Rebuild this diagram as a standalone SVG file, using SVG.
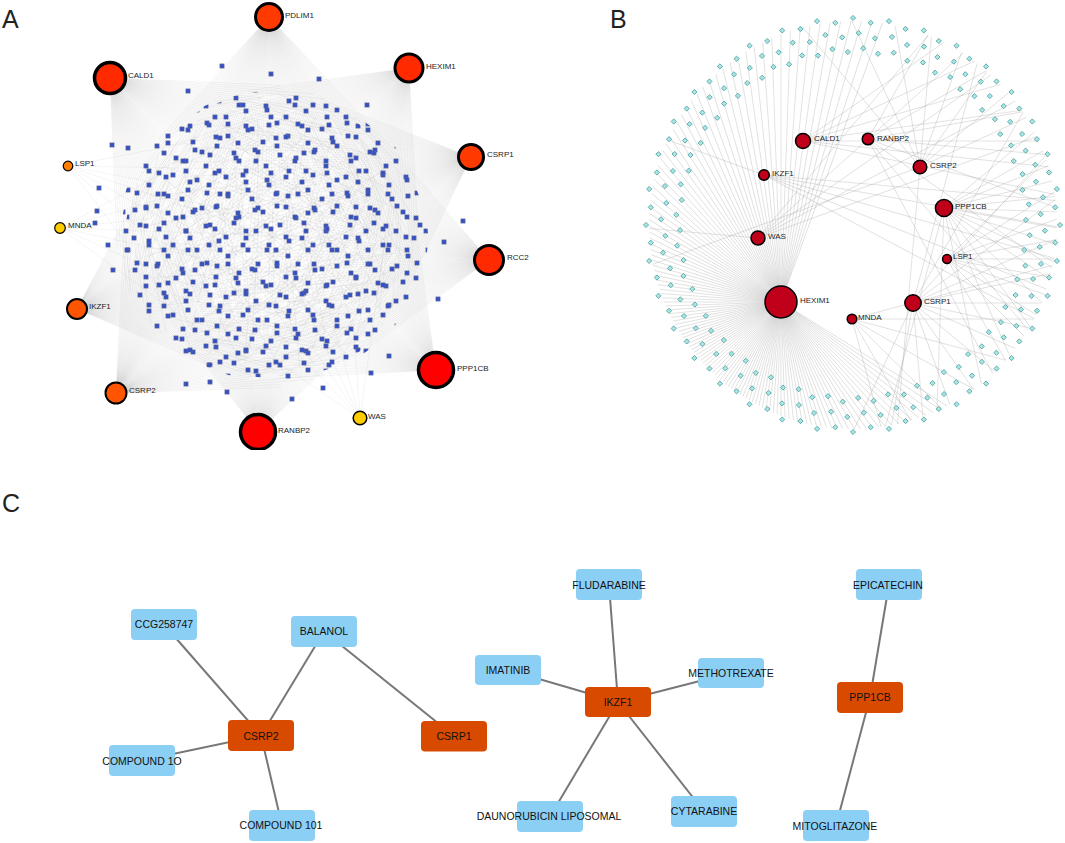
<svg xmlns="http://www.w3.org/2000/svg" width="1065" height="843" viewBox="0 0 1065 843">
<style>
.lbl{font-family:"Liberation Sans",Arial,sans-serif;font-size:8px;fill:#222}
.big{font-family:"Liberation Sans",Arial,sans-serif;font-size:25px;fill:#222}
.ct{font-family:"Liberation Sans",Arial,sans-serif;font-size:10.5px;fill:#111;text-anchor:middle}
.drug{fill:#8ccff5}
.tgt{fill:#d84a00}
.ce line{stroke:#777;stroke-width:2}
.hA{stroke:#000}
.hB{fill:#c0001b;stroke:#000;stroke-width:1.5}
</style>
<defs>
<clipPath id="clipA"><rect x="0" y="0" width="540" height="450"/></clipPath>
<clipPath id="clipB"><circle cx="853" cy="225" r="204"/></clipPath>
<pattern id="p1" width="60" height="60" patternUnits="userSpaceOnUse">
<g fill="#3050cc" stroke="#55609a" stroke-width="0.8">
<rect x="6" y="8" width="4" height="4"/><rect x="27" y="3" width="4" height="4"/><rect x="46" y="14" width="4" height="4"/>
<rect x="13" y="28" width="4" height="4"/><rect x="35" y="24" width="4" height="4"/><rect x="54" y="36" width="4" height="4"/>
<rect x="4" y="49" width="4" height="4"/><rect x="24" y="44" width="4" height="4"/><rect x="44" y="55" width="4" height="4"/>
</g></pattern>
<pattern id="p2" width="70" height="70" patternUnits="userSpaceOnUse" x="13" y="7">
<g fill="#3050cc" stroke="#55609a" stroke-width="0.8">
<rect x="9" y="4" width="4" height="4"/><rect x="31" y="12" width="4" height="4"/><rect x="55" y="6" width="4" height="4"/>
<rect x="18" y="26" width="4" height="4"/><rect x="42" y="31" width="4" height="4"/><rect x="64" y="22" width="4" height="4"/>
<rect x="3" y="45" width="4" height="4"/><rect x="27" y="50" width="4" height="4"/><rect x="52" y="44" width="4" height="4"/>
<rect x="13" y="64" width="4" height="4"/><rect x="38" y="63" width="4" height="4"/><rect x="61" y="58" width="4" height="4"/>
</g></pattern>
<pattern id="p3" width="56" height="56" patternUnits="userSpaceOnUse" x="29" y="21">
<g fill="#3050cc" stroke="#55609a" stroke-width="0.8">
<rect x="3" y="17" width="4" height="4"/><rect x="21" y="3" width="4" height="4"/><rect x="40" y="26" width="4" height="4"/>
<rect x="16" y="38" width="4" height="4"/><rect x="47" y="47" width="4" height="4"/>
</g></pattern>
<rect id="sq" width="4" height="4" fill="#3050cc" stroke="#55609a" stroke-width="0.8"/>
<g id="fa">
<line x2="150" transform="rotate(-42)"/><line x2="180" transform="rotate(-40)"/><line x2="120" transform="rotate(-38)"/>
<line x2="200" transform="rotate(-36)"/><line x2="140" transform="rotate(-34)"/><line x2="230" transform="rotate(-32)"/>
<line x2="110" transform="rotate(-30)"/><line x2="250" transform="rotate(-28)"/><line x2="170" transform="rotate(-26)"/>
<line x2="210" transform="rotate(-24)"/><line x2="130" transform="rotate(-22)"/><line x2="280" transform="rotate(-20)"/>
<line x2="190" transform="rotate(-18)"/><line x2="150" transform="rotate(-16)"/><line x2="300" transform="rotate(-14)"/>
<line x2="220" transform="rotate(-12)"/><line x2="120" transform="rotate(-10)"/><line x2="260" transform="rotate(-8)"/>
<line x2="180" transform="rotate(-6)"/><line x2="320" transform="rotate(-4)"/><line x2="100" transform="rotate(-2)"/>
<line x2="240"/><line x2="160" transform="rotate(2)"/><line x2="290" transform="rotate(4)"/>
<line x2="200" transform="rotate(6)"/><line x2="130" transform="rotate(8)"/><line x2="310" transform="rotate(10)"/>
<line x2="175" transform="rotate(12)"/><line x2="245" transform="rotate(14)"/><line x2="110" transform="rotate(16)"/>
<line x2="270" transform="rotate(18)"/><line x2="195" transform="rotate(20)"/><line x2="140" transform="rotate(22)"/>
<line x2="260" transform="rotate(24)"/><line x2="185" transform="rotate(26)"/><line x2="230" transform="rotate(28)"/>
<line x2="125" transform="rotate(30)"/><line x2="210" transform="rotate(32)"/><line x2="160" transform="rotate(34)"/>
<line x2="220" transform="rotate(36)"/><line x2="135" transform="rotate(38)"/><line x2="190" transform="rotate(40)"/>
<line x2="150" transform="rotate(42)"/>
</g>
<g id="fs">
<line x2="120" transform="rotate(-30)"/><line x2="200" transform="rotate(-18)"/><line x2="90" transform="rotate(-8)"/>
<line x2="260"/><line x2="150" transform="rotate(10)"/><line x2="100" transform="rotate(22)"/><line x2="180" transform="rotate(34)"/>
</g>
<g id="hf">
<line x2="330"/><line x2="330" transform="rotate(2)"/><line x2="330" transform="rotate(4)"/><line x2="330" transform="rotate(6)"/>
<line x2="330" transform="rotate(8)"/><line x2="330" transform="rotate(10)"/><line x2="330" transform="rotate(12)"/>
<line x2="330" transform="rotate(14)"/><line x2="330" transform="rotate(16)"/><line x2="330" transform="rotate(18)"/>
</g>
<line id="bl" x2="430"/>
<path id="dm" d="M0 -2.6L2.6 0L0 2.6L-2.6 0Z" fill="#a8e6e6" stroke="#4a9a9a" stroke-width="0.8"/>
<g id="q">
<use href="#dm" transform="translate(207)"/>
<use href="#dm" transform="rotate(5)translate(203)rotate(-5)"/>
<use href="#dm" transform="rotate(10)translate(207)rotate(-10)"/>
<use href="#dm" transform="rotate(15)translate(203)rotate(-15)"/>
<use href="#dm" transform="rotate(20)translate(207)rotate(-20)"/>
<use href="#dm" transform="rotate(25)translate(203)rotate(-25)"/>
<use href="#dm" transform="rotate(30)translate(207)rotate(-30)"/>
<use href="#dm" transform="rotate(35)translate(203)rotate(-35)"/>
<use href="#dm" transform="rotate(40)translate(207)rotate(-40)"/>
<use href="#dm" transform="rotate(45)translate(203)rotate(-45)"/>
<use href="#dm" transform="rotate(50)translate(207)rotate(-50)"/>
<use href="#dm" transform="rotate(55)translate(203)rotate(-55)"/>
<use href="#dm" transform="rotate(60)translate(207)rotate(-60)"/>
<use href="#dm" transform="rotate(65)translate(203)rotate(-65)"/>
<use href="#dm" transform="rotate(70)translate(207)rotate(-70)"/>
<use href="#dm" transform="rotate(75)translate(203)rotate(-75)"/>
<use href="#dm" transform="rotate(80)translate(207)rotate(-80)"/>
<use href="#dm" transform="rotate(85)translate(203)rotate(-85)"/>
<use href="#dm" transform="rotate(1.7)translate(192)rotate(-1.7)"/>
<use href="#dm" transform="rotate(6.7)translate(188)rotate(-6.7)"/>
<use href="#dm" transform="rotate(11.7)translate(192)rotate(-11.7)"/>
<use href="#dm" transform="rotate(16.7)translate(188)rotate(-16.7)"/>
<use href="#dm" transform="rotate(21.7)translate(192)rotate(-21.7)"/>
<use href="#dm" transform="rotate(26.7)translate(188)rotate(-26.7)"/>
<use href="#dm" transform="rotate(31.7)translate(192)rotate(-31.7)"/>
<use href="#dm" transform="rotate(36.7)translate(188)rotate(-36.7)"/>
<use href="#dm" transform="rotate(41.7)translate(192)rotate(-41.7)"/>
<use href="#dm" transform="rotate(46.7)translate(188)rotate(-46.7)"/>
<use href="#dm" transform="rotate(51.7)translate(192)rotate(-51.7)"/>
<use href="#dm" transform="rotate(56.7)translate(188)rotate(-56.7)"/>
<use href="#dm" transform="rotate(61.7)translate(192)rotate(-61.7)"/>
<use href="#dm" transform="rotate(66.7)translate(188)rotate(-66.7)"/>
<use href="#dm" transform="rotate(71.7)translate(192)rotate(-71.7)"/>
<use href="#dm" transform="rotate(76.7)translate(188)rotate(-76.7)"/>
<use href="#dm" transform="rotate(81.7)translate(192)rotate(-81.7)"/>
<use href="#dm" transform="rotate(86.7)translate(188)rotate(-86.7)"/>
<use href="#dm" transform="rotate(3.3)translate(177)rotate(-3.3)"/>
<use href="#dm" transform="rotate(8.3)translate(173)rotate(-8.3)"/>
<use href="#dm" transform="rotate(13.3)translate(177)rotate(-13.3)"/>
<use href="#dm" transform="rotate(18.3)translate(173)rotate(-18.3)"/>
<use href="#dm" transform="rotate(23.3)translate(177)rotate(-23.3)"/>
<use href="#dm" transform="rotate(28.3)translate(173)rotate(-28.3)"/>
<use href="#dm" transform="rotate(33.3)translate(177)rotate(-33.3)"/>
<use href="#dm" transform="rotate(38.3)translate(173)rotate(-38.3)"/>
<use href="#dm" transform="rotate(43.3)translate(177)rotate(-43.3)"/>
<use href="#dm" transform="rotate(48.3)translate(173)rotate(-48.3)"/>
<use href="#dm" transform="rotate(53.3)translate(177)rotate(-53.3)"/>
<use href="#dm" transform="rotate(58.3)translate(173)rotate(-58.3)"/>
<use href="#dm" transform="rotate(63.3)translate(177)rotate(-63.3)"/>
<use href="#dm" transform="rotate(68.3)translate(173)rotate(-68.3)"/>
<use href="#dm" transform="rotate(73.3)translate(177)rotate(-73.3)"/>
<use href="#dm" transform="rotate(78.3)translate(173)rotate(-78.3)"/>
<use href="#dm" transform="rotate(83.3)translate(177)rotate(-83.3)"/>
<use href="#dm" transform="rotate(88.3)translate(173)rotate(-88.3)"/>
</g>
</defs>
<rect width="1065" height="843" fill="#fff"/>

<!-- Panel letters -->
<text class="big" x="2" y="28">A</text>
<text class="big" x="610" y="28">B</text>
<text class="big" x="2" y="512">C</text>

<!-- Panel A connectors -->
<g id="edgesA" clip-path="url(#clipA)" stroke="#a0a0a0" stroke-opacity="0.2" stroke-width="0.5">
<use href="#fa" transform="translate(269 17) rotate(89) scale(1.1)"/>
<use href="#fa" transform="translate(269 17) rotate(90) scale(1.1 -1.1)"/>
<use href="#fa" transform="translate(110 78) rotate(44.5) scale(1.135)"/>
<use href="#fa" transform="translate(110 78) rotate(45.5) scale(1.135 -1.135)"/>
<use href="#fa" transform="translate(409 68) rotate(129) scale(1.09)"/>
<use href="#fa" transform="translate(409 68) rotate(130) scale(1.09 -1.09)"/>
<use href="#fa" transform="translate(471 157) rotate(158) scale(1.07)"/>
<use href="#fa" transform="translate(471 157) rotate(159) scale(1.07 -1.07)"/>
<use href="#fa" transform="translate(489 260) rotate(186) scale(1.09)"/>
<use href="#fa" transform="translate(489 260) rotate(187) scale(1.09 -1.09)"/>
<use href="#fa" transform="translate(436 370) rotate(219) scale(1.055)"/>
<use href="#fa" transform="translate(436 370) rotate(220) scale(1.055 -1.055)"/>
<use href="#fa" transform="translate(258 432) rotate(274) scale(0.98)"/>
<use href="#fa" transform="translate(258 432) rotate(275) scale(0.98 -0.98)"/>
<use href="#fa" transform="translate(116 393) rotate(315) scale(1.1)"/>
<use href="#fa" transform="translate(116 393) rotate(316) scale(1.1 -1.1)"/>
<use href="#fa" transform="translate(77 309) rotate(340) scale(1.04)"/>
<use href="#fa" transform="translate(77 309) rotate(341) scale(1.04 -1.04)"/>
<use href="#fs" transform="translate(360 418) rotate(244)"/>
<use href="#fs" transform="translate(60 228) rotate(2)"/>
<use href="#fs" transform="translate(68 166) rotate(19)"/>
</g>

<!-- Panel A small nodes -->
<g id="nodesA-small">
<ellipse cx="273" cy="236" rx="155" ry="145" fill="url(#p1)"/>
<ellipse cx="273" cy="236" rx="152" ry="143" fill="url(#p2)"/>
<ellipse cx="273" cy="238" rx="148" ry="140" fill="url(#p3)"/>
<use href="#sq" x="220" y="64"/><use href="#sq" x="269" y="72"/><use href="#sq" x="317" y="77"/>
<use href="#sq" x="110" y="143"/><use href="#sq" x="126" y="146"/><use href="#sq" x="97" y="186"/>
<use href="#sq" x="95" y="209"/><use href="#sq" x="93" y="221"/><use href="#sq" x="106" y="243"/>
<use href="#sq" x="461" y="219"/><use href="#sq" x="442" y="240"/><use href="#sq" x="436" y="297"/>
<use href="#sq" x="369" y="371"/><use href="#sq" x="290" y="397"/><use href="#sq" x="321" y="386"/>
<use href="#sq" x="225" y="390"/><use href="#sq" x="184" y="382"/><use href="#sq" x="208" y="380"/>
<use href="#sq" x="387" y="354"/><use href="#sq" x="186" y="89"/><use href="#sq" x="365" y="103"/>
<use href="#sq" x="111" y="268"/>
</g>

<!-- Panel A hubs -->
<g clip-path="url(#clipA)">
<g id="A-PDLIM1"><circle class="hA" cx="269" cy="17" r="13.5" fill="#ff3a00" stroke-width="3"/><text class="lbl" x="285" y="18">PDLIM1</text></g>
<g id="A-CALD1"><circle class="hA" cx="110" cy="78" r="15.5" fill="#ff2a00" stroke-width="3.5"/><text class="lbl" x="128" y="78">CALD1</text></g>
<g id="A-HEXIM1"><circle class="hA" cx="409" cy="68" r="14" fill="#ff2a00" stroke-width="3"/><text class="lbl" x="426" y="69">HEXIM1</text></g>
<g id="A-CSRP1"><circle class="hA" cx="471" cy="157" r="12.5" fill="#ff3a00" stroke-width="3"/><text class="lbl" x="487" y="157">CSRP1</text></g>
<g id="A-RCC2"><circle class="hA" cx="489" cy="260" r="14.5" fill="#ff2a00" stroke-width="3"/><text class="lbl" x="507" y="260">RCC2</text></g>
<g id="A-PPP1CB"><circle class="hA" cx="436" cy="370" r="17.5" fill="#ff0000" stroke-width="3.5"/><text class="lbl" x="457" y="371">PPP1CB</text></g>
<g id="A-RANBP2"><circle class="hA" cx="258" cy="432" r="17.5" fill="#ff0000" stroke-width="3.5"/><text class="lbl" x="278" y="433">RANBP2</text></g>
<g id="A-WAS"><circle class="hA" cx="360" cy="418" r="6.8" fill="#ffcc00" stroke-width="1.5"/><text class="lbl" x="368" y="419">WAS</text></g>
<g id="A-CSRP2"><circle class="hA" cx="116" cy="393" r="10.5" fill="#ff5500" stroke-width="2"/><text class="lbl" x="129" y="393">CSRP2</text></g>
<g id="A-IKZF1"><circle class="hA" cx="77" cy="309" r="10" fill="#ff5500" stroke-width="2"/><text class="lbl" x="89" y="309">IKZF1</text></g>
<g id="A-MNDA"><circle class="hA" cx="60" cy="228" r="5.3" fill="#ffcc00" stroke-width="1.2"/><text class="lbl" x="68" y="228">MNDA</text></g>
<g id="A-LSP1"><circle class="hA" cx="68" cy="166" r="4.8" fill="#ff7f00" stroke-width="1.2"/><text class="lbl" x="75" y="166">LSP1</text></g>
</g>

<!-- Panel B connectors -->
<g id="edgesB" clip-path="url(#clipB)" stroke="#aaa" stroke-opacity="0.55" stroke-width="0.6">
<use href="#hf" transform="translate(781 302) rotate(32)"/>
<use href="#hf" transform="translate(781 302) rotate(52)"/>
<use href="#hf" transform="translate(781 302) rotate(72)"/>
<use href="#hf" transform="translate(781 302) rotate(92)"/>
<use href="#hf" transform="translate(781 302) rotate(112)"/>
<use href="#hf" transform="translate(781 302) rotate(132)"/>
<use href="#hf" transform="translate(781 302) rotate(152)"/>
<use href="#hf" transform="translate(781 302) rotate(172)"/>
<use href="#hf" transform="translate(781 302) rotate(192)"/>
<use href="#hf" transform="translate(781 302) rotate(212)"/>
<use href="#hf" transform="translate(781 302) rotate(232)"/>
<use href="#hf" transform="translate(781 302) rotate(252)"/>
<use href="#hf" transform="translate(781 302) rotate(272)"/>
<use href="#bl" transform="translate(944 208) rotate(-40)"/><use href="#bl" transform="translate(944 208) rotate(-30)"/>
<use href="#bl" transform="translate(944 208) rotate(-22)"/><use href="#bl" transform="translate(944 208) rotate(-14)"/>
<use href="#bl" transform="translate(944 208) rotate(-6)"/><use href="#bl" transform="translate(944 208) rotate(2)"/>
<use href="#bl" transform="translate(944 208) rotate(10)"/><use href="#bl" transform="translate(944 208) rotate(18)"/>
<use href="#bl" transform="translate(944 208) rotate(26)"/><use href="#bl" transform="translate(944 208) rotate(34)"/>
<use href="#bl" transform="translate(944 208) rotate(44)"/><use href="#bl" transform="translate(944 208) rotate(54)"/>
<use href="#bl" transform="translate(944 208) rotate(66)"/><use href="#bl" transform="translate(944 208) rotate(78)"/>
<use href="#bl" transform="translate(944 208) rotate(92)"/><use href="#bl" transform="translate(944 208) rotate(105)"/>
<use href="#bl" transform="translate(947 259) rotate(-45)"/><use href="#bl" transform="translate(947 259) rotate(-32)"/>
<use href="#bl" transform="translate(947 259) rotate(-20)"/><use href="#bl" transform="translate(947 259) rotate(-10)"/>
<use href="#bl" transform="translate(947 259) rotate(0)"/><use href="#bl" transform="translate(947 259) rotate(10)"/>
<use href="#bl" transform="translate(947 259) rotate(20)"/><use href="#bl" transform="translate(947 259) rotate(32)"/>
<use href="#bl" transform="translate(947 259) rotate(45)"/><use href="#bl" transform="translate(947 259) rotate(60)"/>
<use href="#bl" transform="translate(913 303) rotate(-75)"/><use href="#bl" transform="translate(913 303) rotate(-60)"/>
<use href="#bl" transform="translate(913 303) rotate(-48)"/><use href="#bl" transform="translate(913 303) rotate(-36)"/>
<use href="#bl" transform="translate(913 303) rotate(-24)"/><use href="#bl" transform="translate(913 303) rotate(-12)"/>
<use href="#bl" transform="translate(913 303) rotate(0)"/><use href="#bl" transform="translate(913 303) rotate(12)"/>
<use href="#bl" transform="translate(913 303) rotate(24)"/><use href="#bl" transform="translate(913 303) rotate(40)"/>
<use href="#bl" transform="translate(913 303) rotate(55)"/><use href="#bl" transform="translate(913 303) rotate(70)"/>
<use href="#bl" transform="translate(913 303) rotate(85)"/><use href="#bl" transform="translate(913 303) rotate(100)"/>
<use href="#bl" transform="translate(913 303) rotate(115)"/>
<use href="#bl" transform="translate(920 167) rotate(-130)"/><use href="#bl" transform="translate(920 167) rotate(-115)"/>
<use href="#bl" transform="translate(920 167) rotate(-100)"/><use href="#bl" transform="translate(920 167) rotate(-85)"/>
<use href="#bl" transform="translate(920 167) rotate(-70)"/><use href="#bl" transform="translate(920 167) rotate(-55)"/>
<use href="#bl" transform="translate(920 167) rotate(-40)"/><use href="#bl" transform="translate(920 167) rotate(-25)"/>
<use href="#bl" transform="translate(920 167) rotate(95)"/><use href="#bl" transform="translate(920 167) rotate(160)"/>
<use href="#bl" transform="translate(803 141) rotate(-35)"/><use href="#bl" transform="translate(803 141) rotate(-25)"/>
<use href="#bl" transform="translate(803 141) rotate(-16)"/><use href="#bl" transform="translate(803 141) rotate(-8)"/>
<use href="#bl" transform="translate(803 141) rotate(0)"/><use href="#bl" transform="translate(803 141) rotate(6)"/>
<use href="#bl" transform="translate(803 141) rotate(12)"/>
<use href="#bl" transform="translate(868 139) rotate(-60)"/><use href="#bl" transform="translate(868 139) rotate(-30)"/>
<use href="#bl" transform="translate(868 139) rotate(-10)"/><use href="#bl" transform="translate(868 139) rotate(5)"/>
<use href="#bl" transform="translate(868 139) rotate(20)"/><use href="#bl" transform="translate(868 139) rotate(35)"/>
<use href="#bl" transform="translate(868 139) rotate(50)"/><use href="#bl" transform="translate(868 139) rotate(62)"/>
<use href="#bl" transform="translate(764 175) rotate(5)"/><use href="#bl" transform="translate(764 175) rotate(10)"/>
<use href="#bl" transform="translate(764 175) rotate(16)"/><use href="#bl" transform="translate(764 175) rotate(22)"/>
<use href="#bl" transform="translate(764 175) rotate(28)"/><use href="#bl" transform="translate(764 175) rotate(200)"/>
<use href="#bl" transform="translate(758 238) rotate(-50)"/><use href="#bl" transform="translate(758 238) rotate(-42)"/>
<use href="#bl" transform="translate(758 238) rotate(-35)"/><use href="#bl" transform="translate(758 238) rotate(-28)"/>
<use href="#bl" transform="translate(758 238) rotate(-20)"/><use href="#bl" transform="translate(758 238) rotate(185)"/>
<use href="#bl" transform="translate(852 319) rotate(-15)"/><use href="#bl" transform="translate(852 319) rotate(0)"/>
<use href="#bl" transform="translate(852 319) rotate(15)"/><use href="#bl" transform="translate(852 319) rotate(30)"/>
<use href="#bl" transform="translate(852 319) rotate(45)"/><use href="#bl" transform="translate(852 319) rotate(60)"/>
<use href="#bl" transform="translate(852 319) rotate(75)"/>
</g>

<!-- Panel B small nodes -->
<g id="nodesB-small">
<use href="#q" transform="translate(853 225)"/>
<use href="#q" transform="translate(853 225) rotate(90)"/>
<use href="#q" transform="translate(853 225) rotate(180)"/>
<use href="#q" transform="translate(853 225) rotate(270)"/>
</g>

<!-- Panel B hubs -->
<g id="B-CALD1"><circle class="hB" cx="803" cy="141" r="7.5"/><text class="lbl" x="814" y="141">CALD1</text></g>
<g id="B-RANBP2"><circle class="hB" cx="868" cy="139" r="5.8"/><text class="lbl" x="877" y="141">RANBP2</text></g>
<g id="B-IKZF1"><circle class="hB" cx="764" cy="175" r="5.3"/><text class="lbl" x="772" y="176">IKZF1</text></g>
<g id="B-CSRP2"><circle class="hB" cx="920" cy="167" r="6.8"/><text class="lbl" x="930" y="168">CSRP2</text></g>
<g id="B-PPP1CB"><circle class="hB" cx="944" cy="208" r="8.6" stroke-width="1.8"/><text class="lbl" x="955" y="209">PPP1CB</text></g>
<g id="B-WAS"><circle class="hB" cx="758" cy="238" r="7"/><text class="lbl" x="768" y="239">WAS</text></g>
<g id="B-LSP1"><circle class="hB" cx="947" cy="259" r="4.4"/><text class="lbl" x="953" y="259">LSP1</text></g>
<g id="B-HEXIM1"><circle class="hB" cx="781" cy="302" r="16" stroke-width="3.5"/><text class="lbl" x="800" y="303">HEXIM1</text></g>
<g id="B-CSRP1"><circle class="hB" cx="913" cy="303" r="8.2" stroke-width="1.8"/><text class="lbl" x="924" y="304">CSRP1</text></g>
<g id="B-MNDA"><circle class="hB" cx="852" cy="319" r="4.8"/><text class="lbl" x="858" y="320">MNDA</text></g>

<!-- Panel C connectors -->
<g id="edgesC" class="ce">
<line x1="164" y1="624.5" x2="261" y2="735.5"/>
<line x1="324" y1="631.5" x2="261" y2="735.5"/>
<line x1="324" y1="631.5" x2="454" y2="736"/>
<line x1="142" y1="760.5" x2="261" y2="735.5"/>
<line x1="282" y1="825.5" x2="261" y2="735.5"/>
<line x1="609" y1="584.5" x2="618" y2="702"/>
<line x1="508" y1="670" x2="618" y2="702"/>
<line x1="731" y1="673" x2="618" y2="702"/>
<line x1="550" y1="816.5" x2="618" y2="702"/>
<line x1="704" y1="811.5" x2="618" y2="702"/>
<line x1="889" y1="584.5" x2="870" y2="697.5"/>
<line x1="836" y1="825.5" x2="870" y2="697.5"/>
</g>

<!-- Panel C nodes -->
<g id="C-CCG258747"><rect class="drug" x="131" y="609" width="66" height="31" rx="4"/><text class="ct" x="164" y="628">CCG258747</text></g>
<g id="C-BALANOL"><rect class="drug" x="291" y="616" width="66" height="31" rx="4"/><text class="ct" x="324" y="635">BALANOL</text></g>
<g id="C-CSRP2"><rect class="tgt" x="228" y="720" width="66" height="31" rx="4"/><text class="ct" x="261" y="739.5">CSRP2</text></g>
<g id="C-CSRP1"><rect class="tgt" x="421" y="721" width="66" height="30.5" rx="4"/><text class="ct" x="454" y="740">CSRP1</text></g>
<g id="C-COMPOUND1O"><rect class="drug" x="109" y="745" width="66" height="31" rx="4"/><text class="ct" x="142" y="764.5">COMPOUND 1O</text></g>
<g id="C-COMPOUND101"><rect class="drug" x="249" y="810" width="66" height="31" rx="4"/><text class="ct" x="281" y="829">COMPOUND 101</text></g>
<g id="C-IMATINIB"><rect class="drug" x="475" y="655" width="66" height="30" rx="4"/><text class="ct" x="508" y="674">IMATINIB</text></g>
<g id="C-FLUDARABINE"><rect class="drug" x="576" y="569" width="66" height="31" rx="4"/><text class="ct" x="609" y="588.5">FLUDARABINE</text></g>
<g id="C-IKZF1"><rect class="tgt" x="585" y="687" width="66" height="30" rx="4"/><text class="ct" x="618" y="706">IKZF1</text></g>
<g id="C-METHOTREXATE"><rect class="drug" x="698" y="658" width="66" height="30" rx="4"/><text class="ct" x="731" y="677">METHOTREXATE</text></g>
<g id="C-DAUNORUBICIN"><rect class="drug" x="517" y="801" width="66" height="31" rx="4"/><text class="ct" x="549" y="820">DAUNORUBICIN LIPOSOMAL</text></g>
<g id="C-CYTARABINE"><rect class="drug" x="671" y="796" width="66" height="31" rx="4"/><text class="ct" x="704" y="815">CYTARABINE</text></g>
<g id="C-EPICATECHIN"><rect class="drug" x="856" y="569" width="66" height="31" rx="4"/><text class="ct" x="888" y="588.5">EPICATECHIN</text></g>
<g id="C-PPP1CB"><rect class="tgt" x="837" y="682" width="66" height="31" rx="4"/><text class="ct" x="870" y="701">PPP1CB</text></g>
<g id="C-MITOGLITAZONE"><rect class="drug" x="803" y="810" width="66" height="31" rx="4"/><text class="ct" x="835" y="829.5">MITOGLITAZONE</text></g>
</svg>
